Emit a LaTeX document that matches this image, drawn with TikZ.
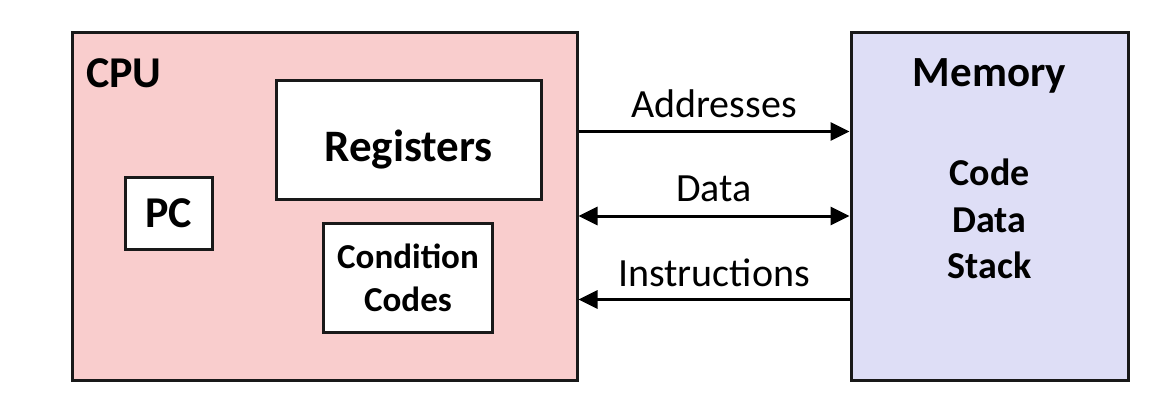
\documentclass[tikz,border=0pt]{standalone}
\usepackage{fontspec}
\setmainfont{Carlito}
\usetikzlibrary{arrows.meta}
\definecolor{cpupink}{RGB}{249,205,205}
\definecolor{memblue}{RGB}{222,222,246}
\tikzstyle{box} = [draw=black!90, line width=3pt, inner sep=0pt]
\tikzstyle{bus} = [line width=3pt, -{Triangle[length=19pt,width=18pt]}]
\tikzstyle{dbus} = [line width=3pt, {Triangle[length=19pt,width=18pt]}-{Triangle[length=19pt,width=18pt]}]
\tikzstyle{lbl} = [anchor=base, inner sep=0pt, font=\fontsize{40}{42}\selectfont]

\begin{document}
\begin{tikzpicture}[x=1pt, y=-1pt]
    \useasboundingbox [fill=white] (0,0) rectangle (1174,407);
    \node (cpu) [box, fill=cpupink, minimum width=505, minimum height=348] at (324.5,206) {};
    \node (mem) [box, fill=memblue, minimum width=277, minimum height=348] at (989.5,206) {};
    \node (cpulbl) [anchor=base west, inner sep=0pt, font=\bfseries\fontsize{44}{46}\selectfont] at (86,87) {CPU};
    \node (reg) [box, fill=white, minimum width=265, minimum height=119, text height=44, text depth=0, font=\bfseries\fontsize{45}{48}\selectfont] at (408.5,139.5) {Registers};
    \node (pc) [box, fill=white, minimum width=87, minimum height=72, font=\bfseries\fontsize{44}{46}\selectfont] at (168.5,213) {PC};
    \node (cc) [box, fill=white, minimum width=169, minimum height=109, align=center, font=\bfseries\fontsize{35}{43}\selectfont] at (408,277.5) {Condition\\Codes};
    \node (memlbl) [anchor=base, inner sep=0pt, font=\bfseries\fontsize{43}{45}\selectfont] at (989.5,86) {Memory};
    \node (segs) [align=center, inner sep=0pt, font=\bfseries\fontsize{38}{46.5}\selectfont] at (989.5,219) {Code\\Data\\Stack};
    \coordinate (ya) at (0,131.5);
    \coordinate (yd) at (0,216);
    \coordinate (yi) at (0,299.5);
    \node (addr) [lbl] at (714,117) {Addresses};
    \node (data) [lbl] at (714,201.5) {Data};
    \node (instr) [lbl] at (714,286.5) {Instructions};
    \draw [bus] (cpu.east |- ya) -- (mem.west |- ya);
    \draw [dbus] (cpu.east |- yd) -- (mem.west |- yd);
    \draw [bus] (mem.west |- yi) -- (cpu.east |- yi);
\end{tikzpicture}
\end{document}
